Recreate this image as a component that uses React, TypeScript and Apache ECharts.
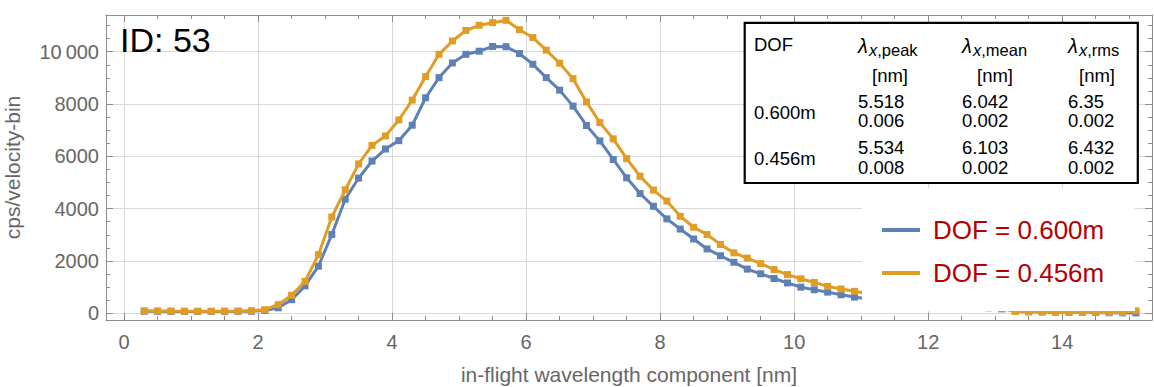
import React, { useEffect, useRef } from "react";
import * as echarts from "echarts";

const wavelength = [
  0.3, 0.5, 0.7, 0.9, 1.1, 1.3, 1.5, 1.7, 1.9, 2.1, 2.3, 2.5, 2.7, 2.9, 3.1, 3.3, 3.5, 3.7, 3.9,
  4.1, 4.3, 4.5, 4.7, 4.9, 5.1, 5.3, 5.5, 5.7, 5.9, 6.1, 6.3, 6.5, 6.7, 6.9, 7.1, 7.3, 7.5, 7.7,
  7.9, 8.1, 8.3, 8.5, 8.7, 8.9, 9.1, 9.3, 9.5, 9.7, 9.9, 10.1, 10.3, 10.5, 10.7, 10.9, 11.1,
  11.3, 11.5, 11.7, 11.9, 12.1, 12.3, 12.5, 12.7, 12.9, 13.1, 13.3, 13.5, 13.7, 13.9, 14.1,
  14.3, 14.5, 14.7, 14.9, 15.1,
];

const dof600 = [
  80, 75, 72, 70, 70, 70, 72, 75, 80, 110, 210, 520, 1050, 1800, 3010, 4360, 5170, 5820, 6280,
  6600, 7190, 8240, 9010, 9570, 9900, 10020, 10200, 10190, 9930, 9520, 9010, 8530, 7920, 7180,
  6590, 5880, 5180, 4580, 4090, 3610, 3220, 2840, 2460, 2200, 1950, 1690, 1510, 1330, 1160, 1000,
  900, 810, 710, 620, 550, 500, 460, 420, 390, 350, 320, 290, 250, 210, 170, 100, 80, 70, 60, 50,
  40, 25, 20, 15, 15,
];

const dof456 = [
  95, 90, 85, 82, 80, 80, 82, 85, 95, 140, 330, 690, 1220, 2240, 3680, 4720, 5710, 6420, 6780,
  7390, 8150, 9050, 9900, 10410, 10810, 11010, 11110, 11200, 10840, 10540, 10060, 9560, 8970,
  8080, 7290, 6670, 5910, 5240, 4710, 4290, 3710, 3290, 3010, 2630, 2310, 2110, 1900, 1670, 1480,
  1320, 1180, 1030, 930, 840, 750, 680, 620, 560, 510, 460, 410, 360, 310, 250, 190, 70, 50, 40,
  35, 30, 30, 30, 30, 30, 95,
];

const seriesNames = ["DOF = 0.600m", "DOF = 0.456m"];
const tableDof = ["0.600m", "0.456m"];
const tablePeak = [["5.518", "0.006"], ["5.534", "0.008"]];
const tableMean = [["6.042", "0.002"], ["6.103", "0.002"]];
const tableRms = [["6.35", "0.002"], ["6.432", "0.002"]];
const tableSubs = [",peak", ",mean", ",rms"];

const FONT = '"Liberation Sans", Arial, Helvetica, sans-serif';
const FRAME = "#8c8c8c";
const LABEL = "#666666";
const GRIDC = "#d9d9d9";
const BLUE = "#5e81b5";
const ORANGE = "#e19c24";

function fmtY(v: number): string {
  const s = String(Math.round(v));
  if (Math.abs(v) >= 10000) return s.slice(0, -3) + "\u2009" + s.slice(-3);
  return s;
}

function txt(text: string, x: number, y: number, size: number, extra: any = {}) {
  return {
    type: "text",
    x,
    y,
    z: 12,
    silent: true,
    style: {
      text,
      fontSize: size,
      fontFamily: FONT,
      fill: "#000",
      align: "left",
      verticalAlign: "middle",
      ...extra,
    },
  };
}

export default function App() {
  const ref = useRef<HTMLDivElement>(null);

  useEffect(() => {
    document.body.style.margin = "0";
    if (!ref.current) return;
    const chart = echarts.init(ref.current, undefined, { renderer: "svg" });

    const xMin = -0.27;
    const xMax = 15.34;
    const yMin = -256;
    const yMax = 11403;

    const axisCommon = {
      type: "value",
      axisLine: { show: true, onZero: false, lineStyle: { color: FRAME, width: 1 } },
      axisTick: { show: true, inside: true, length: 7, lineStyle: { color: FRAME, width: 1 } },
      minorTick: { show: true, splitNumber: 4, length: 4, lineStyle: { color: FRAME, width: 1 } },
    };

    const colX = [858, 962, 1068];
    const colNm = [872, 977, 1079];
    const rowDofY = [112, 158.5];
    const rowV1 = [101, 147];
    const rowV2 = [120.5, 167];

    const graphic: any[] = [
      {
        type: "rect",
        z: 10,
        silent: true,
        shape: { x: 862, y: 188, width: 273, height: 123 },
        style: { fill: "#ffffff" },
      },
      {
        type: "rect",
        z: 11,
        silent: true,
        shape: { x: 744.7, y: 22.8, width: 393.1, height: 160.2 },
        style: { fill: "#ffffff", stroke: "#000000", lineWidth: 2.2 },
      },
      txt("ID: 53", 120, 40, 34),
      txt("DOF", 754, 44, 18.5),
    ];
    colX.forEach((cx, i) => {
      graphic.push(txt("λ", cx, 46, 20, { fontStyle: "italic" }));
      graphic.push({
        type: "text",
        x: cx + 11,
        y: 50,
        z: 12,
        silent: true,
        style: {
          text: "{i|x}{n|" + tableSubs[i] + "}",
          fontSize: 16.5,
          fontFamily: FONT,
          fill: "#000",
          verticalAlign: "middle",
          rich: {
            i: { fontStyle: "italic", fontSize: 16.5, fontFamily: FONT, fill: "#000" },
            n: { fontSize: 16.5, fontFamily: FONT, fill: "#000" },
          },
        },
      });
      graphic.push(txt("[nm]", colNm[i], 75, 18.5));
    });
    tableDof.forEach((d, r) => {
      graphic.push(txt(d, 754, rowDofY[r], 18.5));
      const vals = [tablePeak[r], tableMean[r], tableRms[r]];
      vals.forEach((pair, c) => {
        graphic.push(txt(pair[0], colX[c], rowV1[r], 18.5));
        graphic.push(txt(pair[1], colX[c], rowV2[r], 18.5));
      });
    });
    graphic.push(
      txt("in-flight wavelength component [nm]", 629, 374, 21, { fill: LABEL, align: "center" })
    );
    graphic.push({
      type: "text",
      x: 12,
      y: 167.5,
      rotation: Math.PI / 2,
      z: 12,
      silent: true,
      style: {
        text: "cps/velocity-bin",
        fontSize: 21,
        fontFamily: FONT,
        fill: LABEL,
        align: "center",
        verticalAlign: "middle",
      },
    });

    const option: any = {
      animation: false,
      grid: { left: 106, top: 15, width: 1046, height: 305, containLabel: false },
      xAxis: [
        {
          ...axisCommon,
          position: "bottom",
          min: xMin,
          max: xMax,
          minInterval: 2,
          maxInterval: 2,
          axisLabel: {
            color: LABEL,
            fontSize: 20,
            fontFamily: FONT,
            margin: 12,
            showMinLabel: false,
            showMaxLabel: false,
          },
          splitLine: { show: true, lineStyle: { color: GRIDC, width: 1 } },
        },
        {
          ...axisCommon,
          position: "top",
          min: xMin,
          max: xMax,
          minInterval: 2,
          maxInterval: 2,
          axisLabel: { show: false },
          splitLine: { show: false },
        },
      ],
      yAxis: [
        {
          ...axisCommon,
          position: "left",
          min: yMin,
          max: yMax,
          minInterval: 2000,
          maxInterval: 2000,
          axisLabel: {
            color: LABEL,
            fontSize: 20,
            fontFamily: FONT,
            margin: 7,
            showMinLabel: false,
            showMaxLabel: false,
            formatter: (v: number) => fmtY(v),
          },
          splitLine: { show: true, lineStyle: { color: GRIDC, width: 1 } },
        },
        {
          ...axisCommon,
          position: "right",
          min: yMin,
          max: yMax,
          minInterval: 2000,
          maxInterval: 2000,
          axisLabel: { show: false },
          splitLine: { show: false },
        },
      ],
      legend: {
        orient: "vertical",
        left: 882,
        top: 215,
        padding: 0,
        itemWidth: 38,
        itemHeight: 4,
        itemGap: 13,
        icon: "rect",
        selectedMode: false,
        z: 20,
        data: seriesNames,
        textStyle: {
          color: "#b30000",
          fontSize: 26,
          fontFamily: FONT,
          lineHeight: 30,
          padding: [0, 0, 0, 8],
        },
      },
      series: [
        {
          name: seriesNames[0],
          type: "line",
          xAxisIndex: 0,
          yAxisIndex: 0,
          data: wavelength.map((x, i) => [x, dof600[i]]),
          color: BLUE,
          itemStyle: { color: BLUE },
          lineStyle: { color: BLUE, width: 3 },
          symbol: "rect",
          symbolSize: 7,
          showSymbol: true,
          z: 2,
        },
        {
          name: seriesNames[1],
          type: "line",
          xAxisIndex: 0,
          yAxisIndex: 0,
          data: wavelength.map((x, i) => [x, dof456[i]]),
          color: ORANGE,
          itemStyle: { color: ORANGE },
          lineStyle: { color: ORANGE, width: 3 },
          symbol: "rect",
          symbolSize: 7,
          showSymbol: true,
          z: 3,
        },
      ],
      graphic,
    };

    chart.setOption(option);
    return () => {
      chart.dispose();
    };
  }, []);

  return (
    <div
      ref={ref}
      style={{ position: "absolute", left: 0, top: 0, width: 1154, height: 387, background: "#fff" }}
    />
  );
}
